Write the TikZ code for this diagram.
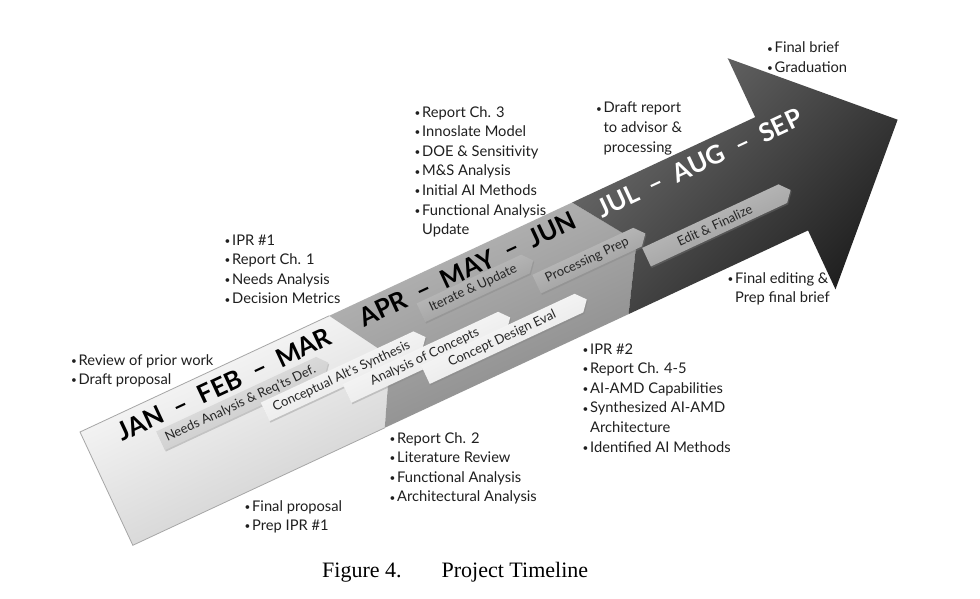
\documentclass[tikz,border=0pt]{standalone}
\usepackage{fontspec}
\setmainfont{Lato}
\newfontfamily\capfont{Liberation Serif}
\usetikzlibrary{shapes.symbols,shadows}
\newcommand\bul{\makebox[7.5pt][l]{\raisebox{0.8pt}{\fontsize{10}{10}\selectfont\textbullet}}}
\newcommand\ind{\hspace*{7.5pt}}
\begin{document}
\begin{tikzpicture}[x=1pt,y=-1pt,
  bul/.style={anchor=base west, align=left, inner sep=0pt, font=\fontsize{14.7}{19.6}\selectfont, text=black!88},
  month/.style={font=\fontsize{25.5}{25.5}\selectfont\bfseries, inner sep=0pt, anchor=center, transform shape},
  task/.style={signal, signal to=east, signal pointer angle=100, minimum height=20.5pt, inner sep=0pt,
    font=\fontsize{13}{13}\selectfont, text=black!85, transform shape,
    drop shadow={opacity=0.35, shadow xshift=1pt, shadow yshift=-1.5pt}},
  lighttask/.style={task, top color=white, bottom color=black!12, shading angle=25},
  midtask/.style={task, top color=black!8, bottom color=black!25, shading angle=25},
  darktask/.style={task, top color=black!22, bottom color=black!42, shading angle=25},
]
\useasboundingbox (0,0) rectangle (980,599);
\fill[white] (0,0) rectangle (980,599);

\begin{scope}[shift={(80,432)}, rotate=25]
  % segments
  \shade[top color=white, bottom color=black!20, shading angle=25]
    (0,0) -- (275,0) -- (313,62.5) -- (278,125) -- (0,125) -- cycle;
  \draw[black!35, line width=0.8pt] (275,0) -- (0,0) -- (0,125) -- (278,125);
  \shade[top color=black!27, bottom color=black!47, shading angle=25]
    (275,0) -- (543,0) -- (585,62.5) -- (547,125) -- (278,125) -- (313,62.5) -- cycle;
  \shade[top color=black!57, bottom color=black!88, shading angle=45]
    (543,0) -- (745,0) -- (745,-65) -- (873,62.5) -- (745,190) -- (745,125) -- (547,125) -- (585,62.5) -- cycle;

  % months
  \node[month] (m1) at (151,18) {JAN\hspace{0.5em}–\hspace{0.5em}FEB\hspace{0.5em}–\hspace{0.5em}MAR};
  \node[month] (m2) at (420,16) {APR\hspace{0.5em}–\hspace{0.5em}MAY\hspace{0.5em}–\hspace{0.5em}JUN};
  \node[month, text=white] (m3) at (675,18) {JUL\hspace{0.5em}–\hspace{0.5em}AUG\hspace{0.5em}–\hspace{0.5em}SEP};

  % tasks
  \node[midtask, minimum width=185pt] (t1) at (157.5,42) {Needs Analysis \& Req'ts Def.};
  \node[lighttask, minimum width=177pt] (t2) at (260.5,60) {Conceptual Alt's Synthesis};
  \node[lighttask, minimum width=180pt] (t3) at (344,78) {Analysis of Concepts};
  \node[lighttask, minimum width=178pt] (t4) at (422,94) {Concept Design Eval};
  \node[darktask, minimum width=124pt] (t5) at (417,36) {Iterate \& Update};
  \node[darktask, minimum width=120pt] (t6) at (532,59) {Processing Prep};
  \node[darktask, minimum width=159pt] (t7) at (662.5,81) {Edit \& Finalize};
\end{scope}

% bullet lists (anchored at the baseline of their last line)
\node[bul] (b1) at (767,72.6) {\bul Final brief\\ \bul Graduation};
\node[bul] (b2) at (596,152.2) {\bul Draft report\\ \ind to advisor \&\\ \ind processing};
\node[bul] (b3) at (414.5,234.6) {\bul Report Ch. 3\\ \bul Innoslate Model\\ \bul DOE \& Sensitivity\\ \bul M\&S Analysis\\ \bul Initial AI Methods\\ \bul Functional Analysis\\ \ind Update};
\node[bul] (b4) at (224.5,303.8) {\bul IPR \#1\\ \bul Report Ch. 1\\ \bul Needs Analysis\\ \bul Decision Metrics};
\node[bul] (b5) at (71,384.6) {\bul Review of prior work\\ \bul Draft proposal};
\node[bul] (b6) at (389.5,501.8) {\bul Report Ch. 2\\ \bul Literature Review\\ \bul Functional Analysis\\ \bul Architectural Analysis};
\node[bul] (b7) at (244.5,530.6) {\bul Final proposal\\ \bul Prep IPR \#1};
\node[bul] (b8) at (582.5,452) {\bul IPR \#2\\ \bul Report Ch. 4-5\\ \bul AI-AMD Capabilities\\ \bul Synthesized AI-AMD\\ \ind Architecture\\ \bul Identified AI Methods};
\node[bul] (b9) at (727.5,302.6) {\bul Final editing \&\\ \ind Prep final brief};

% caption
\node[anchor=base west, inner sep=0pt, font=\capfont\fontsize{22}{22}\selectfont] (cap) at (322,577) {Figure 4.\hspace{40pt}Project Timeline};
\end{tikzpicture}
\end{document}
